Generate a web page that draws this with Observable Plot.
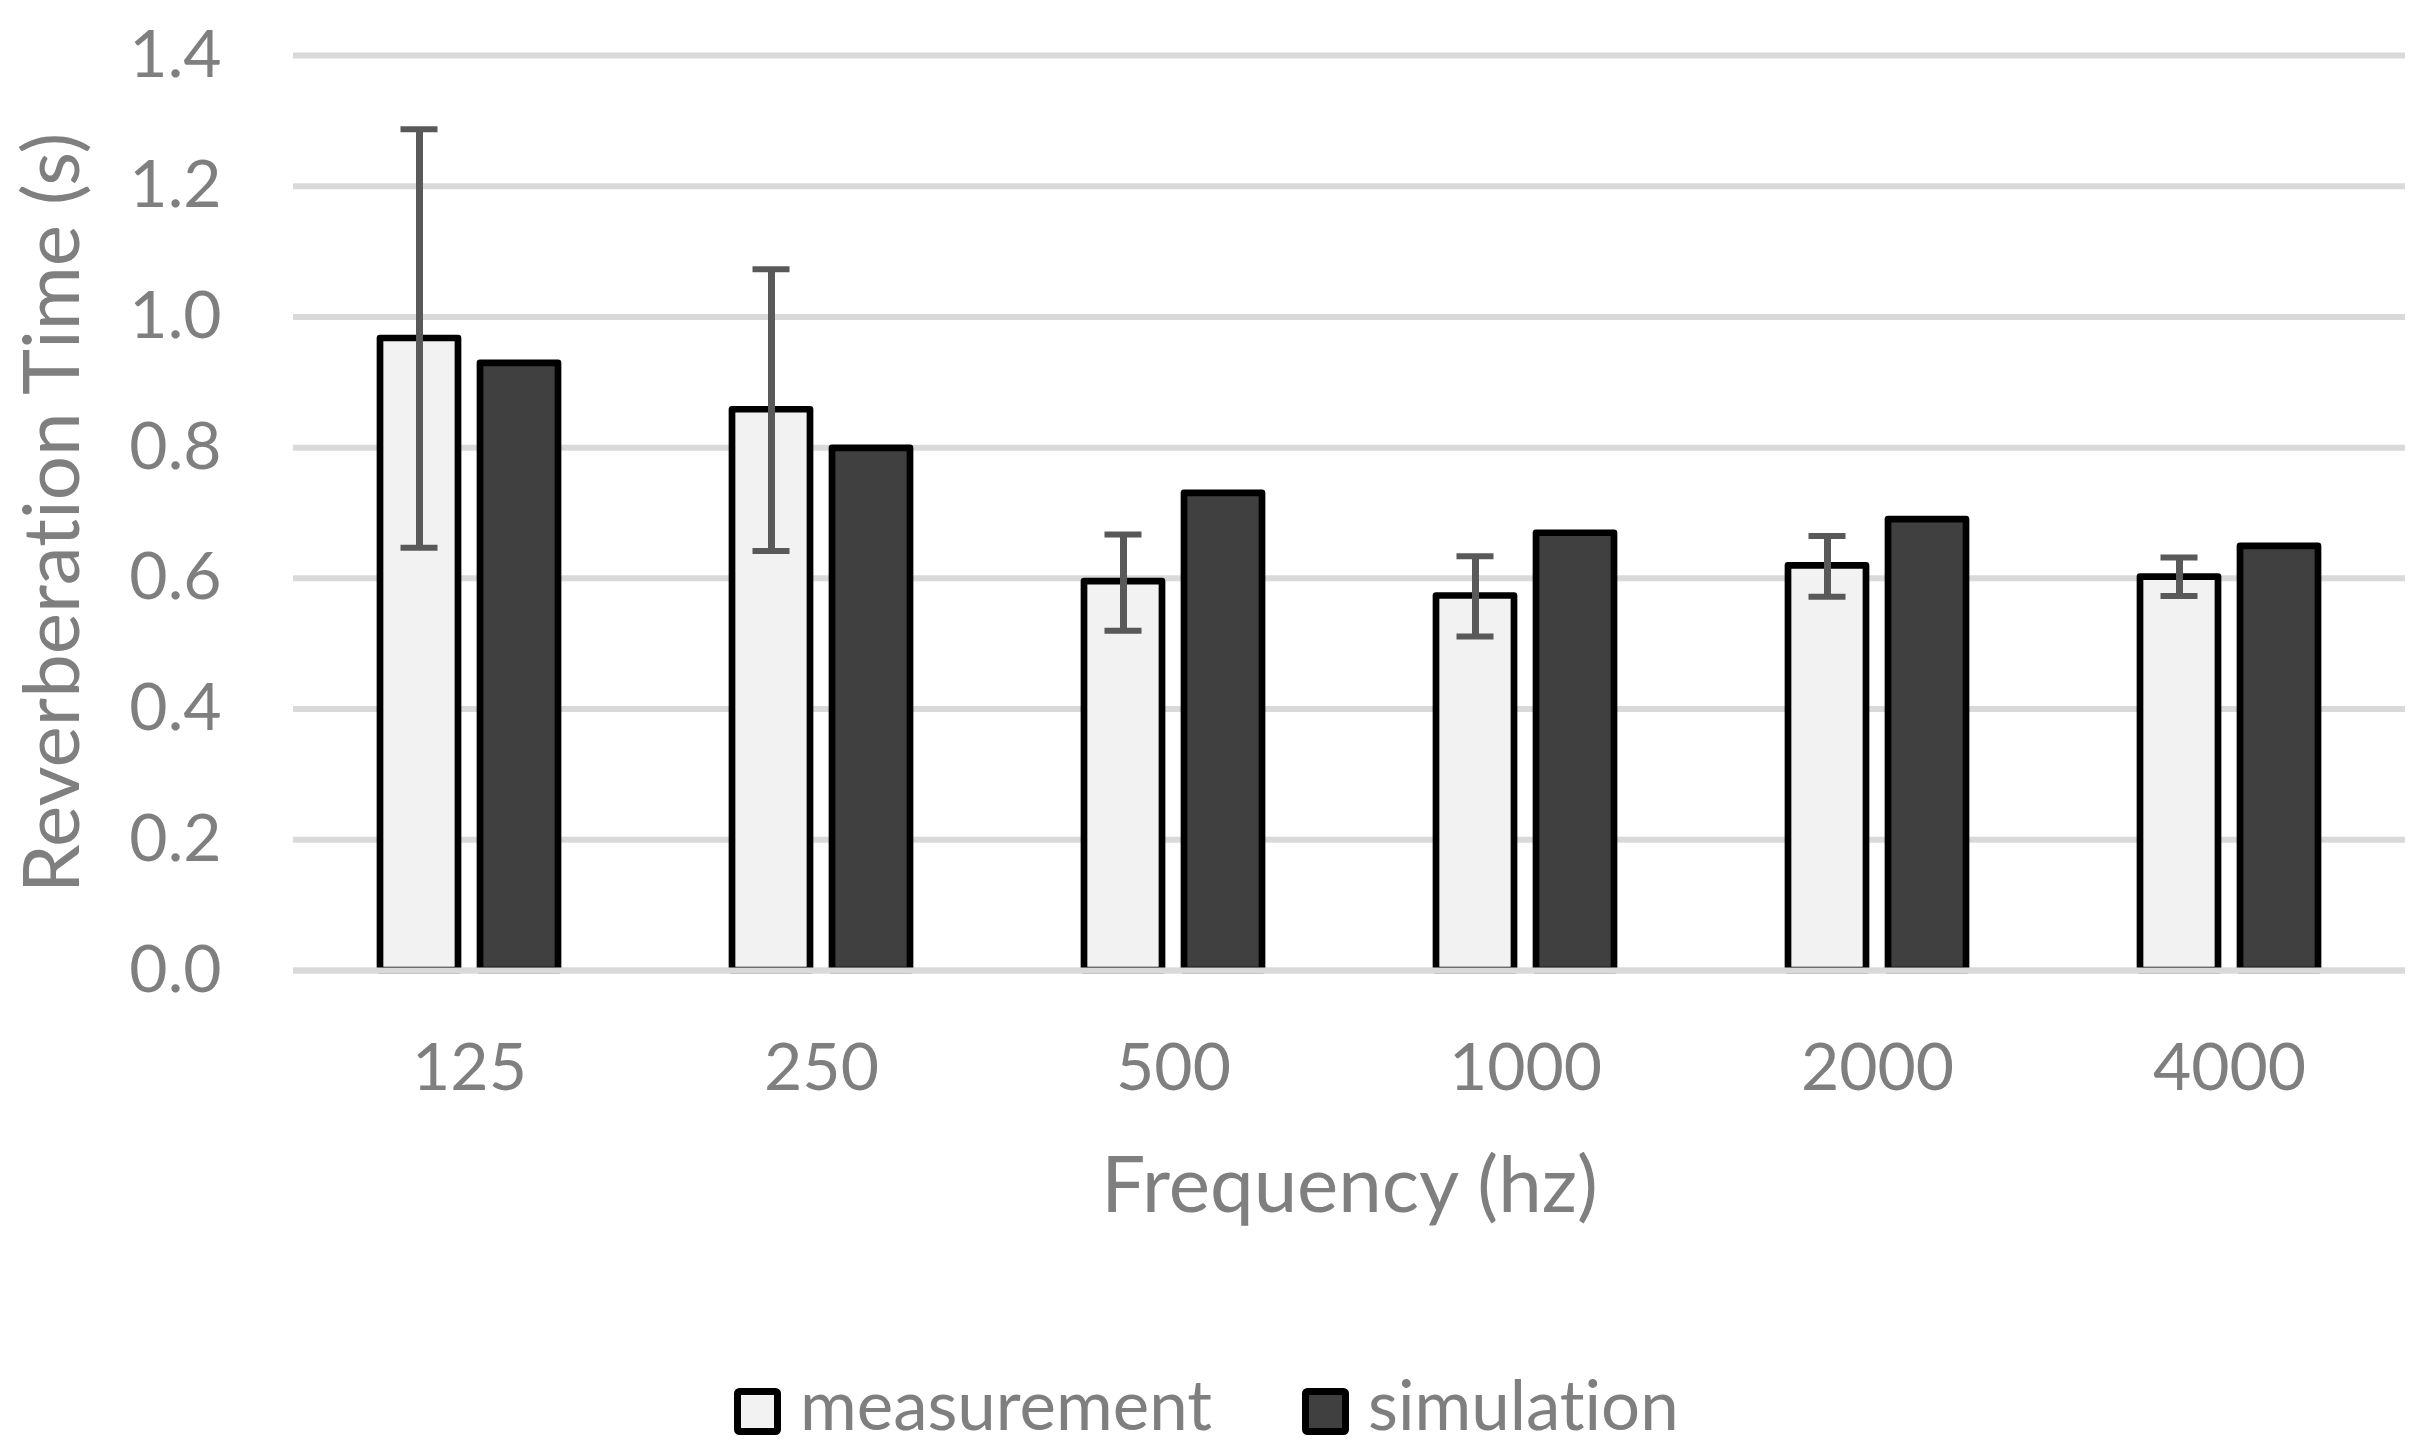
<!DOCTYPE html>
<html>
<head>
<meta charset="utf-8">
<script src="https://cdn.jsdelivr.net/npm/d3@7"></script>
<script src="https://cdn.jsdelivr.net/npm/@observablehq/plot@0.6"></script>
<style>
  html, body { margin: 0; padding: 0; background: #ffffff; }
  body { width: 2427px; height: 1446px; position: relative; overflow: hidden; font-family: Lato, sans-serif; }
  #chart { position: absolute; left: 0; top: 0; }
  #legend { position: absolute; left: 0; top: 1290px; }
  svg, svg text { font-variant-ligatures: none; font-feature-settings: "liga" 0, "clig" 0; }
</style>
</head>
<body>
<div id="chart"></div>
<div id="legend"></div>
<script>
// ---- data ----
const frequencies = ["125", "250", "500", "1000", "2000", "4000"];
const seriesNames = ["measurement", "simulation"];
const measurement = [0.967, 0.858, 0.595, 0.573, 0.619, 0.602];
const simulation  = [0.929, 0.799, 0.730, 0.669, 0.690, 0.649];
const errLow      = [0.647, 0.642, 0.520, 0.511, 0.572, 0.573];
const errHigh     = [1.287, 1.073, 0.667, 0.634, 0.665, 0.632];
const yTicks      = [0, 0.2, 0.4, 0.6, 0.8, 1.0, 1.2, 1.4];
const seriesFills = ["#f2f2f2", "#404040"];
const yTitle = "Reverberation Time (s)";
const xTitle = "Frequency (hz)";

// ---- tables ----
const rows = frequencies.flatMap((f, i) => [
  {freq: f, series: seriesNames[0], value: measurement[i]},
  {freq: f, series: seriesNames[1], value: simulation[i]}
]);
const errs = frequencies.map((f, i) => ({freq: f, series: seriesNames[0], low: errLow[i], high: errHigh[i]}));

const textColor = "#7f7f7f";
const gridColor = "#d9d9d9";
const errColor = "#595959";

const chart = Plot.plot({
  width: 2427,
  height: 1290,
  marginTop: 55,
  marginLeft: 292,
  marginRight: 22,
  marginBottom: 320,
  style: {fontFamily: "Lato, sans-serif", color: textColor, background: "#ffffff"},
  fx: {domain: frequencies, padding: 0, label: null},
  x: {domain: seriesNames, paddingInner: 0.218, paddingOuter: 0.861, axis: null},
  y: {domain: [0, 1.4], axis: null},
  color: {domain: seriesNames, range: seriesFills},
  marks: [
    Plot.gridY({ticks: yTicks, stroke: gridColor, strokeOpacity: 1, strokeWidth: 6}),
    Plot.barY(rows, {fx: "freq", x: "series", y: "value", fill: "series",
      stroke: "#000000", strokeWidth: 6.7, strokeLinejoin: "round"}),
    Plot.ruleY([0], {stroke: gridColor, strokeWidth: 6}),
    Plot.ruleX(errs, {fx: "freq", x: "series", y1: "low", y2: "high", stroke: errColor, strokeWidth: 7}),
    Plot.tickY(errs, {fx: "freq", x: "series", y: "low", stroke: errColor, strokeWidth: 6, insetLeft: 20.5, insetRight: 20.5}),
    Plot.tickY(errs, {fx: "freq", x: "series", y: "high", stroke: errColor, strokeWidth: 6, insetLeft: 20.5, insetRight: 20.5}),
    Plot.axisY({ticks: yTicks, tickFormat: d => d.toFixed(1), tickSize: 0, tickPadding: 72,
      fontSize: 66, fill: textColor, label: null}),
    Plot.axisFx({anchor: "bottom", tickSize: 0, tickPadding: 73, fontSize: 66, fill: textColor, label: null}),
    Plot.text([yTitle], {facet: "super", frameAnchor: "left", rotate: -90, textAnchor: "middle",
      lineAnchor: "middle", dx: -239, fontSize: 78, fill: textColor}),
    Plot.text([xTitle], {facet: "super", frameAnchor: "bottom", textAnchor: "middle",
      lineAnchor: "middle", dy: 217, fontSize: 78, fill: textColor})
  ]
});
document.getElementById("chart").appendChild(chart);

// ---- legend (below the chart) ----
const legendItems = [
  {name: seriesNames[0], fill: seriesFills[0], x: 734},
  {name: seriesNames[1], fill: seriesFills[1], x: 1302}
];
const lsvg = d3.select("#legend").append("svg")
  .attr("width", 2427).attr("height", 156)
  .style("font-family", "Lato, sans-serif");
const g = lsvg.selectAll("g").data(legendItems).join("g")
  .attr("transform", d => `translate(${d.x},98)`);
g.append("rect").attr("x", 3.5).attr("y", 3.5).attr("width", 40).attr("height", 40)
  .attr("rx", 2).attr("fill", d => d.fill).attr("stroke", "#000").attr("stroke-width", 7);
g.append("text").attr("x", 66).attr("y", 42).attr("font-size", 69).attr("fill", textColor)
  .style("font-variant-ligatures", "none")
  .text(d => d.name);
</script>
</body>
</html>
